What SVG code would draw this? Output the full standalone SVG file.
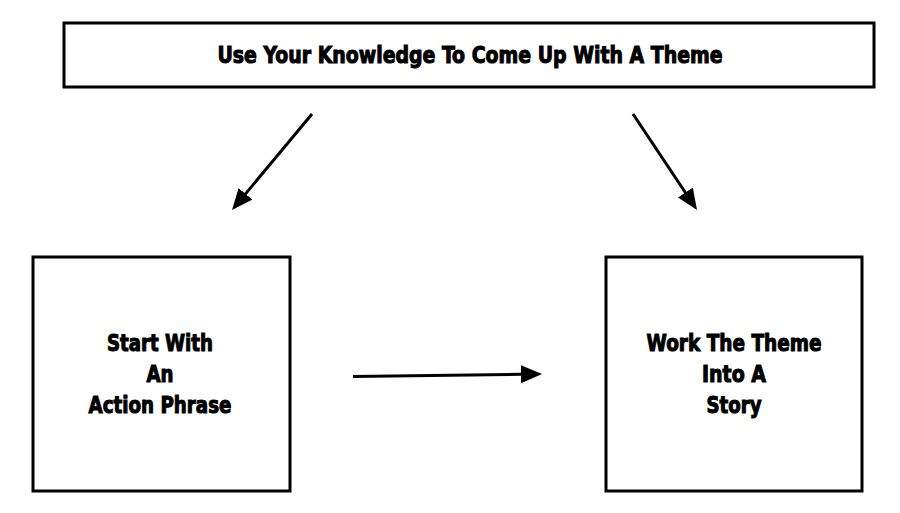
<svg xmlns="http://www.w3.org/2000/svg" width="900" height="513" viewBox="0 0 900 513">
<style>
.box{fill:#fff;stroke:#000;stroke-width:3}
.t{font-family:"Liberation Sans Narrow","DejaVu Sans Condensed","Liberation Sans",sans-serif;font-weight:bold;font-size:23px;fill:#000;stroke:#000;stroke-width:1;text-anchor:middle}
.c{stroke:#000;stroke-width:3;fill:none}
</style>
<defs>
<marker id="ah" markerWidth="7" markerHeight="6" refX="4" refY="3" orient="auto" markerUnits="strokeWidth">
<path d="M0,0 L7,3 L0,6 Z" fill="#000"/>
</marker>
</defs>
<rect width="900" height="513" fill="#fff"/>
<g id="top">
<rect class="box" x="64" y="23" width="810" height="64"/>
<text class="t" x="470" y="63" textLength="505" lengthAdjust="spacingAndGlyphs">Use Your Knowledge To Come Up With A Theme</text>
</g>
<g id="left">
<rect class="box" x="33" y="257" width="257" height="234"/>
<text class="t" x="160" y="351" textLength="106" lengthAdjust="spacingAndGlyphs">Start With</text>
<text class="t" x="160" y="382" textLength="27" lengthAdjust="spacingAndGlyphs">An</text>
<text class="t" x="160" y="413" textLength="143" lengthAdjust="spacingAndGlyphs">Action Phrase</text>
</g>
<g id="right">
<rect class="box" x="606" y="257" width="256" height="234"/>
<text class="t" x="734" y="351" textLength="175" lengthAdjust="spacingAndGlyphs">Work The Theme</text>
<text class="t" x="734" y="382" textLength="64" lengthAdjust="spacingAndGlyphs">Into A</text>
<text class="t" x="734" y="413" textLength="55" lengthAdjust="spacingAndGlyphs">Story</text>
</g>
<g id="connectors">
<line class="c" x1="312" y1="114" x2="237.8" y2="203.1" marker-end="url(#ah)"/>
<line class="c" x1="633" y1="114" x2="692" y2="202.5" marker-end="url(#ah)"/>
<line class="c" x1="353" y1="376.5" x2="533" y2="374.1" marker-end="url(#ah)"/>
</g>
</svg>
